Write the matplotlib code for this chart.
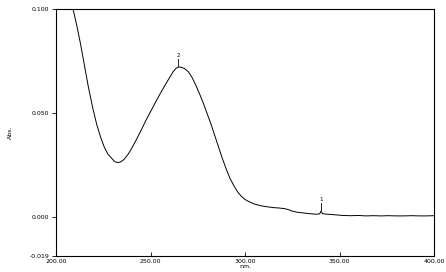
import matplotlib
matplotlib.use("Agg")
import matplotlib.pyplot as plt
import numpy as np

# spectrum (nm, Abs.)
wavelength = [200.0, 200.3, 202.0, 204.0, 206.0, 207.5, 209.0, 211.0, 213.0, 215.0,
              217.0, 219.5, 221.5, 223.5, 225.5, 227.5, 229.5, 231.0, 232.5, 234.0,
              236.0, 238.0, 240.0, 242.5, 245.0, 247.5, 250.0, 252.5, 255.0, 257.5,
              260.0, 262.0, 263.5, 264.6, 266.0, 268.0, 270.0, 272.0, 274.0, 276.0,
              278.0, 280.0, 282.0, 284.0, 286.0, 288.0, 290.0, 292.0, 294.0, 296.0,
              298.0, 300.0, 302.5, 305.0, 307.5, 310.0, 312.5, 315.0, 318.0, 321.0,
              323.0, 325.0, 328.0, 332.0, 335.0, 338.0, 339.5, 340.2, 341.0, 342.5,
              345.0, 348.0, 352.0, 356.0, 360.0, 364.0, 368.0, 372.0, 376.0, 380.0,
              384.0, 388.0, 392.0, 396.0, 400.0]
absorb = [0.092, 0.101, 0.110, 0.113, 0.111, 0.106, 0.100, 0.092, 0.083, 0.073,
          0.063, 0.052, 0.0445, 0.0385, 0.0335, 0.030, 0.028, 0.0265, 0.026, 0.0262,
          0.0275, 0.0298, 0.0328, 0.0370, 0.0415, 0.0462, 0.0505, 0.0548, 0.0590, 0.0630,
          0.0668, 0.0698, 0.0714, 0.0720, 0.0720, 0.0713, 0.0698, 0.0670, 0.0632, 0.0590,
          0.0545, 0.0495, 0.0445, 0.0390, 0.0335, 0.0280, 0.0230, 0.0185, 0.0150, 0.0120,
          0.0098, 0.0082, 0.0070, 0.0060, 0.0054, 0.0049, 0.0046, 0.0043, 0.0041, 0.0038,
          0.0033, 0.0026, 0.0020, 0.0016, 0.0013, 0.0011, 0.0013, 0.0026, 0.0014, 0.0012,
          0.0010, 0.0008, 0.0005, 0.0004, 0.0005, 0.0003, 0.0004, 0.0003, 0.0004, 0.0003,
          0.0003, 0.0004, 0.0003, 0.0003, 0.0004]

peak_nm = [340.2, 264.6]
peak_abs = [0.0026, 0.0720]
peak_names = ["1", "2"]

x_ticks = [200, 250, 300, 350, 400]
y_ticks = [-0.019, 0.000, 0.050, 0.100]

fig = plt.figure(figsize=(4.46, 2.72), dpi=100)
ax = fig.add_axes([0.1256, 0.059, 0.8475, 0.908])
ax.plot(wavelength, absorb, color="black", lw=0.7)

for xp, yp, nm in zip(peak_nm, peak_abs, peak_names):
    ax.plot([xp, xp], [yp + 0.0005, yp + 0.0040], color="black", lw=0.6)
    ax.text(xp, yp + 0.0043, nm, fontsize=4, ha="center", va="bottom")

ax.set_xlim(200, 400)
ax.set_ylim(-0.019, 0.100)
ax.set_xticks(x_ticks)
ax.set_xticklabels(["%.2f" % v for v in x_ticks])
ax.set_yticks(y_ticks)
ax.set_yticklabels(["%.3f" % v for v in y_ticks])
ax.tick_params(axis="x", direction="in", length=3, width=0.6, labelsize=4.5, pad=2)
ax.tick_params(axis="y", direction="out", length=3, width=0.6, labelsize=4.5, pad=2)
for s in ax.spines.values():
    s.set_linewidth(0.8)
ax.set_xlabel("nm.", fontsize=4.5, labelpad=0)
ax.set_ylabel("Abs.", fontsize=4.5, labelpad=12)

fig.savefig("out.png", dpi=100)
